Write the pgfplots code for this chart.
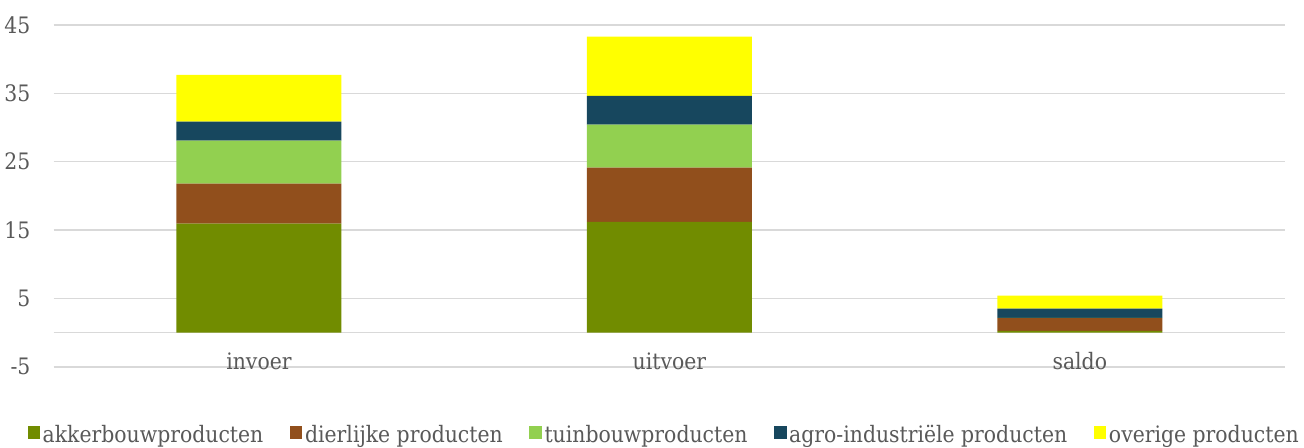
\documentclass[border=0pt]{standalone}
\usepackage{pgfplots}
\pgfplotsset{compat=1.18}
\usepackage{fontspec}
\setmainfont{DejaVu Serif Condensed}
\definecolor{akker}{HTML}{718C00}
\definecolor{dier}{HTML}{914F1C}
\definecolor{tuin}{HTML}{92D050}
\definecolor{agro}{HTML}{17475E}
\definecolor{over}{HTML}{FFFF00}
\definecolor{txt}{HTML}{595959}
\definecolor{grd}{HTML}{D9D9D9}
\begin{document}
\begin{tikzpicture}
\begin{axis}[
  name=ax,
  scale only axis,
  width=924pt, height=256.5pt,
  xmin=-0.5, xmax=2.5, ymin=-5, ymax=45,
  ybar stacked, bar width=123.75pt,
  axis line style={draw=none},
  major tick length=0pt,
  xtick={0,1,2}, xticklabels={invoer,uitvoer,saldo},
  ytick={-5,5,15,25,35,45},
  extra y ticks={0}, extra y tick labels={},
  extra y tick style={grid=major},
  ymajorgrids, grid style={grd, line width=1.1pt},
  tick label style={font=\fontsize{17}{19}\selectfont, text=txt},
  /pgf/number format/assume math mode=true,
  yticklabel style={anchor=east, xshift=-14pt},
  xticklabel style={anchor=center, yshift=4pt},
  legend columns=5,
  legend style={draw=none, at={(axis description cs:0.496,-0.199)}, anchor=center,
    font=\fontsize{17}{19}\selectfont, text=txt, inner sep=0pt,
    /tikz/every even column/.append style={column sep=18pt},
    nodes={inner sep=2pt}},
  legend image code/.code={\fill[#1] (0pt,-3pt) rectangle (9.4pt,6.4pt);},
]
\addplot[fill=akker, draw=none] coordinates {(0,15.95) (1,16.2) (2,0.25)};
\addplot[fill=dier, draw=none] coordinates {(0,5.85) (1,7.94) (2,1.87)};
\addplot[fill=tuin, draw=none] coordinates {(0,6.28) (1,6.28) (2,0.03)};
\addplot[fill=agro, draw=none] coordinates {(0,2.78) (1,4.2) (2,1.36)};
\addplot[fill=over, draw=none] coordinates {(0,6.83) (1,8.67) (2,1.9)};
\legend{akkerbouwproducten, dierlijke producten, tuinbouwproducten, agro-industriële producten, overige producten}
\end{axis}
\path ([xshift=-39.75pt,yshift=-60.75pt]ax.south west) rectangle ([xshift=14.25pt,yshift=18.75pt]ax.north east);
\end{tikzpicture}
\end{document}
